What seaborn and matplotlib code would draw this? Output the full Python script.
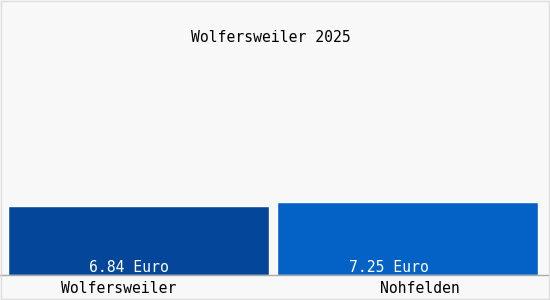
import matplotlib
matplotlib.use("Agg")
import matplotlib.pyplot as plt
import seaborn as sns
import pandas as pd

categories = ["Wolfersweiler", "Nohfelden"]
values = [6.84, 7.25]
value_labels = ["6.84 Euro", "7.25 Euro"]
bar_colors = ["#04479a", "#0462c6"]
title = "Wolfersweiler 2025"

# small horizontal nudges (pixels) of texts, as seen in the reference
value_label_dx = [-9, -19]
cat_label_dx = [-20, 12]

sns.set_theme(style="white")
plt.rcParams["font.family"] = ["DejaVu Sans Mono"]

df = pd.DataFrame({"cat": categories, "val": values})

fig = plt.figure(figsize=(5.5, 3.0), dpi=100, facecolor="#f8f8f8")
ax = fig.add_axes([0, 25 / 300, 1, 275 / 300])
ax.set_facecolor("#f8f8f8")
sns.barplot(data=df, x="cat", y="val", hue="cat", palette=bar_colors,
            width=0.968, legend=False, ax=ax, saturation=1)
ax.set_xlim(-0.513, 1.527)
ax.set_ylim(0, 27.36)
for s in ["top", "right", "left"]:
    ax.spines[s].set_visible(False)
ax.spines["bottom"].set_color("#aaaaaa")
ax.spines["bottom"].set_linewidth(1)
ax.set_yticks([])
ax.set_xlabel("")
ax.set_ylabel("")
ax.set_xticks(range(len(categories)))
ax.set_xticklabels([""] * len(categories))
ax.tick_params(axis="x", length=0)

fs = 10.6
for i, lab in enumerate(value_labels):
    ax.annotate(lab, xy=(i, 0), xytext=(value_label_dx[i], 3),
                textcoords="offset pixels", ha="center", va="baseline",
                color="white", fontsize=fs)
for i, lab in enumerate(categories):
    ax.annotate(lab, xy=(i, 0), xytext=(cat_label_dx[i], -18),
                textcoords="offset pixels", ha="center", va="baseline",
                color="black", fontsize=fs, annotation_clip=False)
fig.text(270.5 / 550, 1 - 38 / 300, title, ha="center", va="center",
         fontsize=fs, color="black")
border = plt.Rectangle((0.001, 0.002), 0.997, 0.995, transform=fig.transFigure,
                       fill=False, edgecolor="#dddddd", linewidth=1)
fig.add_artist(border)
fig.savefig("out.png", dpi=100, facecolor=fig.get_facecolor())
